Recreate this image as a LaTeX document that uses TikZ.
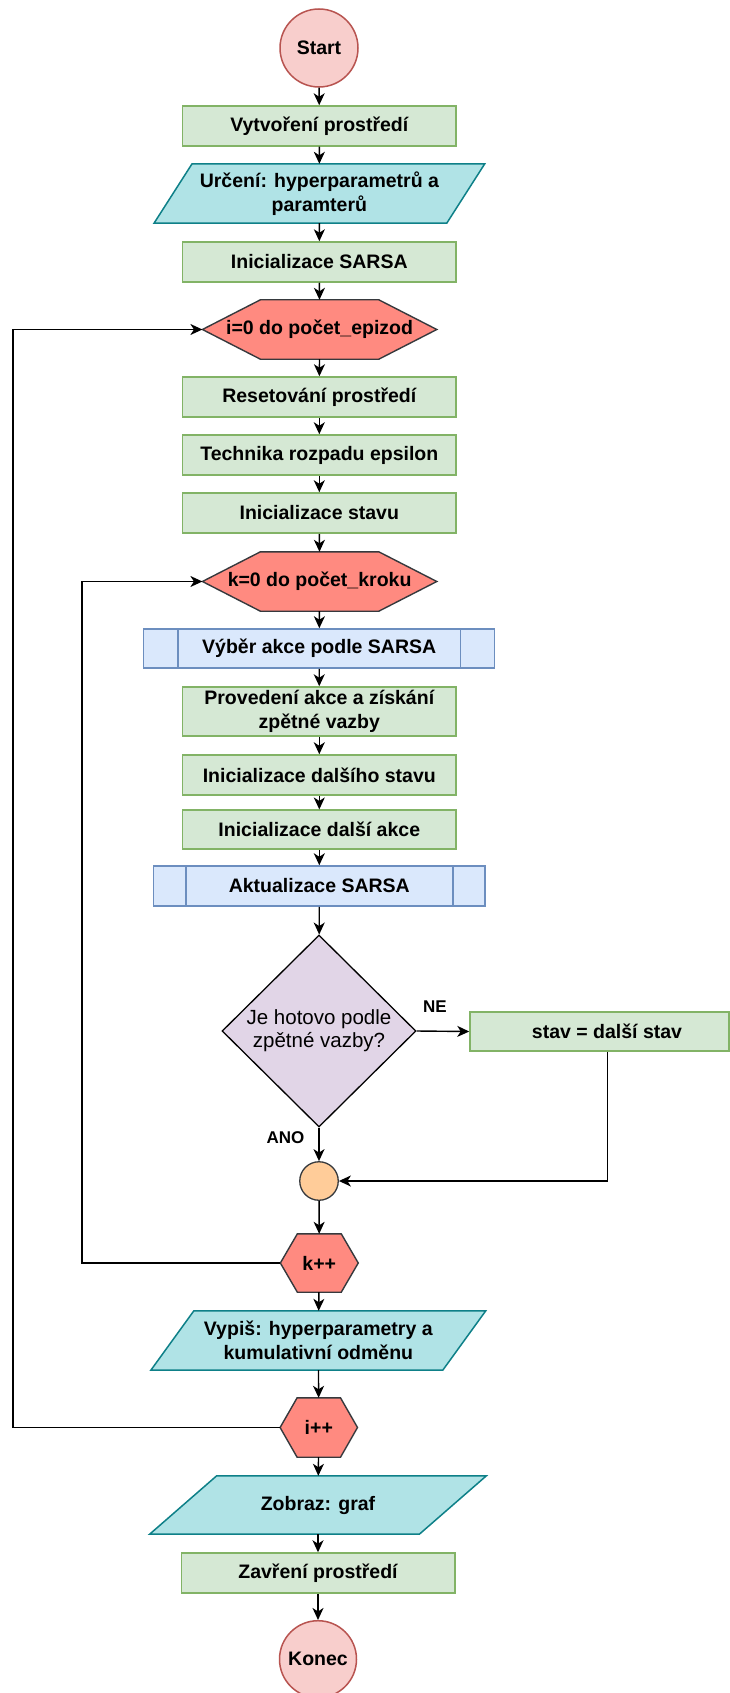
\documentclass[tikz,border=0pt]{standalone}
\usepackage{fontspec}
\setmainfont{Liberation Sans}
\usetikzlibrary{shapes.geometric,arrows.meta,backgrounds}

\definecolor{procfill}{HTML}{D5E8D4}
\definecolor{procline}{HTML}{82B366}
\definecolor{subfill}{HTML}{DAE8FC}
\definecolor{subline}{HTML}{6C8EBF}
\definecolor{iofill}{HTML}{B0E3E6}
\definecolor{ioline}{HTML}{0E8088}
\definecolor{termfill}{HTML}{F8CECC}
\definecolor{termline}{HTML}{B85450}
\definecolor{loopfill}{HTML}{FF8A80}
\definecolor{loopline}{HTML}{36393D}
\definecolor{decfill}{HTML}{E1D5E7}
\definecolor{mergefill}{HTML}{FFCC99}

% hexagonal loop marker drawn behind a named node (#2 = width of the pointed ends)
\newcommand\hexshape[2]{%
  \draw[hexdraw] (#1.west) -- ([xshift=#2]#1.north west) -- ([xshift=-#2]#1.north east)
    -- (#1.east) -- ([xshift=-#2]#1.south east) -- ([xshift=#2]#1.south west) -- cycle;}
% input/output parallelogram drawn behind a named node (#2 = half of the slant)
\newcommand\ioshape[2]{%
  \draw[iodraw] ([xshift=-#2]#1.south west) -- ([xshift=-#2]#1.south east)
    -- ([xshift=#2]#1.north east) -- ([xshift=#2]#1.north west) -- cycle;}
% side bands of a predefined-process box
\newcommand\subbands[2]{%
  \draw[subline, line width=1.5pt] ([xshift=#2]#1.north west) -- ([xshift=#2]#1.south west);
  \draw[subline, line width=1.5pt] ([xshift=-#2]#1.north east) -- ([xshift=-#2]#1.south east);}

\begin{document}
\begin{tikzpicture}[x=1pt, y=-1pt,
  base/.style={font=\bfseries\fontsize{19.5}{23.5}\selectfont, align=center, inner sep=0pt, text=black},
  proc/.style={base, rectangle, draw=procline, fill=procfill, line width=1.5pt,
    minimum width=273.5, minimum height=40},
  subproc/.style={proc, draw=subline, fill=subfill},
  terminal/.style={base, circle, draw=termline, fill=termfill, line width=1.5pt, minimum size=78},
  hexnode/.style={base, rectangle, minimum height=59},
  ionode/.style={base, rectangle, minimum height=59},
  hexdraw/.style={draw=loopline, fill=loopfill, line width=1.4pt, line join=miter},
  iodraw/.style={draw=ioline, fill=iofill, line width=1.5pt},
  decision/.style={diamond, draw=black, fill=decfill, line width=1.3pt, text=black,
    font=\fontsize{20.5}{23.3}\selectfont, align=center, inner sep=0pt,
    minimum width=194, minimum height=192},
  merge/.style={circle, draw=loopline, fill=mergefill, line width=1.3pt, minimum size=38.5, inner sep=0pt},
  conn/.style={draw=black, line width=1.4pt, -{Stealth[length=12pt,width=11pt,inset=3.5pt]}},
  edgelabel/.style={font=\bfseries\fontsize{17}{20}\selectfont, inner sep=0pt, text=black}]

\begin{scope}[on background layer]
  \fill[white] (0,0) rectangle (730,1693);
\end{scope}
\path[use as bounding box] (0,0) rectangle (730,1693);

% main column
\node[terminal] (start) at (319,48) {Start};
\node[proc] (env) at (319.3,126) {Vytvoření prostředí};
\node[ionode, minimum width=292.3] (params) at (319.4,193.5) {Určení: hyperparametrů a\\paramterů};
\node[proc] (initsarsa) at (319.3,262) {Inicializace SARSA};
\node[hexnode, minimum width=234] (loopi) at (319.6,329.5) {i=0 do počet\_epizod};
\node[proc] (reset) at (319.3,397) {Resetování prostředí};
\node[proc] (decay) at (319.3,455) {Technika rozpadu epsilon};
\node[proc] (initstate) at (319.3,513) {Inicializace stavu};
\node[hexnode, minimum width=234] (loopk) at (319.6,581.5) {k=0 do počet\_kroku};
\node[subproc, minimum width=351, minimum height=39] (select) at (319.2,648.5) {Výběr akce podle SARSA};
\node[proc, minimum height=49] (act) at (319.3,711.5) {Provedení akce a získání\\zpětné vazby};
\node[proc] (nextstate) at (319.3,775) {Inicializace dalšího stavu};
\node[proc, minimum height=39] (nextact) at (319.3,829.7) {Inicializace další akce};
\node[subproc, minimum width=331.5] (update) at (319.3,886) {Aktualizace SARSA};
\node[decision] (done) at (319,1031) {Je hotovo podle\\zpětné vazby?};
\node[proc, minimum width=259, minimum height=39] (stav) at (599.5,1031.5) {\hspace*{15pt}stav = další stav};
\node[merge] (join) at (319,1181) {};
\node[hexnode, minimum width=77.5, minimum height=58] (kinc) at (319.3,1263) {k++};
\node[ionode, minimum width=291.5] (report) at (318.3,1340.5) {Vypiš: hyperparametry a\\kumulativní odměnu};
\node[hexnode, minimum width=77, minimum height=59] (iinc) at (318.8,1427.5) {i++};
\node[ionode, minimum width=269.3, minimum height=58] (plot) at (318,1505) {Zobraz: graf};
\node[proc] (close) at (318,1573) {Zavření prostředí};
\node[terminal, minimum size=77] (stop) at (318,1659.2) {Konec};

% shapes behind the text-only nodes
\begin{scope}[on background layer]
  \ioshape{params}{19}
  \hexshape{loopi}{58}
  \hexshape{loopk}{58}
  \hexshape{kinc}{17}
  \ioshape{report}{21.5}
  \hexshape{iinc}{17}
  \ioshape{plot}{33.5}
\end{scope}
\subbands{select}{35}
\subbands{update}{33}

% edge labels
\node[edgelabel] (ne) at (435,1007) {NE};
\node[edgelabel] (ano) at (285.5,1138) {ANO};

% free ends of the loop-back and branch connectors
\coordinate (outer) at (13,329.5);
\coordinate (inner) at (82,581.5);
\coordinate (stavdrop) at ([xshift=8]stav.south);

% straight flow
\draw[conn] (start) -- (env);
\draw[conn] (env) -- (params);
\draw[conn] (params) -- (initsarsa);
\draw[conn] (initsarsa) -- (loopi);
\draw[conn] (loopi) -- (reset);
\draw[conn] (reset) -- (decay);
\draw[conn] (decay) -- (initstate);
\draw[conn] (initstate) -- (loopk);
\draw[conn] (loopk) -- (select);
\draw[conn] (select) -- (act);
\draw[conn] (act) -- (nextstate);
\draw[conn] (nextstate) -- (nextact);
\draw[conn] (nextact) -- (update);
\draw[conn] (update) -- (done);
\draw[conn] (done.south) -- (join.north);
\draw[conn] (join) -- (kinc);
\draw[conn] (kinc) -- (report);
\draw[conn] (report) -- (iinc);
\draw[conn] (iinc) -- (plot);
\draw[conn] (plot) -- (close);
\draw[conn] (close) -- (stop);

% decision branch
\draw[conn] (done.east) -- (stav.west);
\draw[conn] (stavdrop) |- (join.east);

% loop-backs
\draw[conn] (kinc.west) -| (inner) -- (loopk.west);
\draw[conn] (iinc.west) -| (outer) -- (loopi.west);
\end{tikzpicture}
\end{document}
